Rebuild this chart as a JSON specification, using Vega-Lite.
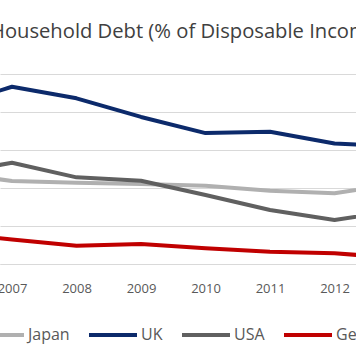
{
  "$schema": "https://vega.github.io/schema/vega-lite/v6.json",
  "width": 356,
  "height": 190,
  "autosize": "none",
  "padding": {"left": 0, "top": 74, "right": 0, "bottom": 100},
  "background": "white",
  "title": {
    "text": "Household Debt (% of Disposable Income)",
    "anchor": "start",
    "dx": 16,
    "offset": 16,
    "baseline": "alphabetic",
    "font": "Open Sans",
    "fontSize": 20.2,
    "fontWeight": "normal",
    "color": "#404040"
  },
  "config": {
    "view": {"stroke": null},
    "font": "Open Sans"
  },
  "data": {
    "values": [
      {"year": 2006, "country": "Japan", "value": 128.2},
      {"year": 2007, "country": "Japan", "value": 123.7},
      {"year": 2008, "country": "Japan", "value": 122.8},
      {"year": 2009, "country": "Japan", "value": 122.1},
      {"year": 2010, "country": "Japan", "value": 121.2},
      {"year": 2011, "country": "Japan", "value": 118.6},
      {"year": 2012, "country": "Japan", "value": 117.2},
      {"year": 2013, "country": "Japan", "value": 122.3},
      {"year": 2006, "country": "UK", "value": 162.6},
      {"year": 2007, "country": "UK", "value": 173.3},
      {"year": 2008, "country": "UK", "value": 167.2},
      {"year": 2009, "country": "UK", "value": 157.4},
      {"year": 2010, "country": "UK", "value": 148.9},
      {"year": 2011, "country": "UK", "value": 149.6},
      {"year": 2012, "country": "UK", "value": 143.4},
      {"year": 2013, "country": "UK", "value": 142.0},
      {"year": 2006, "country": "USA", "value": 127.2},
      {"year": 2007, "country": "USA", "value": 133.3},
      {"year": 2008, "country": "USA", "value": 125.6},
      {"year": 2009, "country": "USA", "value": 123.8},
      {"year": 2010, "country": "USA", "value": 116.3},
      {"year": 2011, "country": "USA", "value": 108.4},
      {"year": 2012, "country": "USA", "value": 103.2},
      {"year": 2013, "country": "USA", "value": 108.3},
      {"year": 2006, "country": "Germany", "value": 96.1},
      {"year": 2007, "country": "Germany", "value": 92.9},
      {"year": 2008, "country": "Germany", "value": 89.6},
      {"year": 2009, "country": "Germany", "value": 90.5},
      {"year": 2010, "country": "Germany", "value": 88.3},
      {"year": 2011, "country": "Germany", "value": 86.5},
      {"year": 2012, "country": "Germany", "value": 85.6},
      {"year": 2013, "country": "Germany", "value": 83.2}
    ]
  },
  "mark": {"type": "line", "strokeWidth": 4, "clip": true, "strokeJoin": "round", "strokeCap": "round"},
  "encoding": {
    "x": {
      "field": "year",
      "type": "quantitative",
      "scale": {"domain": [2006.814, 2012.333], "nice": false, "zero": false},
      "axis": {
        "title": null,
        "values": [2007, 2008, 2009, 2010, 2011, 2012],
        "format": "d",
        "grid": false,
        "ticks": false,
        "domain": true,
        "domainColor": "#d9d9d9",
        "domainWidth": 1,
        "labelPadding": 18,
        "labelFont": "Open Sans",
        "labelFontSize": 13,
        "labelColor": "#595959",
        "labelFlush": false,
        "labelOverlap": false
      }
    },
    "y": {
      "field": "value",
      "type": "quantitative",
      "scale": {"domain": [80, 180], "nice": false, "zero": false},
      "axis": {
        "title": null,
        "values": [80, 100, 120, 140, 160, 180],
        "labels": false,
        "ticks": false,
        "domain": false,
        "grid": true,
        "gridColor": "#d9d9d9",
        "gridWidth": 1
      }
    },
    "color": {
      "field": "country",
      "type": "nominal",
      "sort": ["Japan", "UK", "USA", "Germany"],
      "scale": {
        "domain": ["Japan", "UK", "USA", "Germany"],
        "range": ["#b0b0b0", "#0c2a6b", "#606060", "#c00000"]
      },
      "legend": {
        "title": null,
        "orient": "none",
        "direction": "horizontal",
        "legendX": -26,
        "legendY": 235,
        "symbolType": "stroke",
        "symbolSize": 2304,
        "symbolStrokeWidth": 4,
        "labelFont": "Open Sans",
        "labelFontSize": 16,
        "labelColor": "#595959",
        "labelOffset": 2,
        "columnPadding": 11
      }
    }
  }
}
